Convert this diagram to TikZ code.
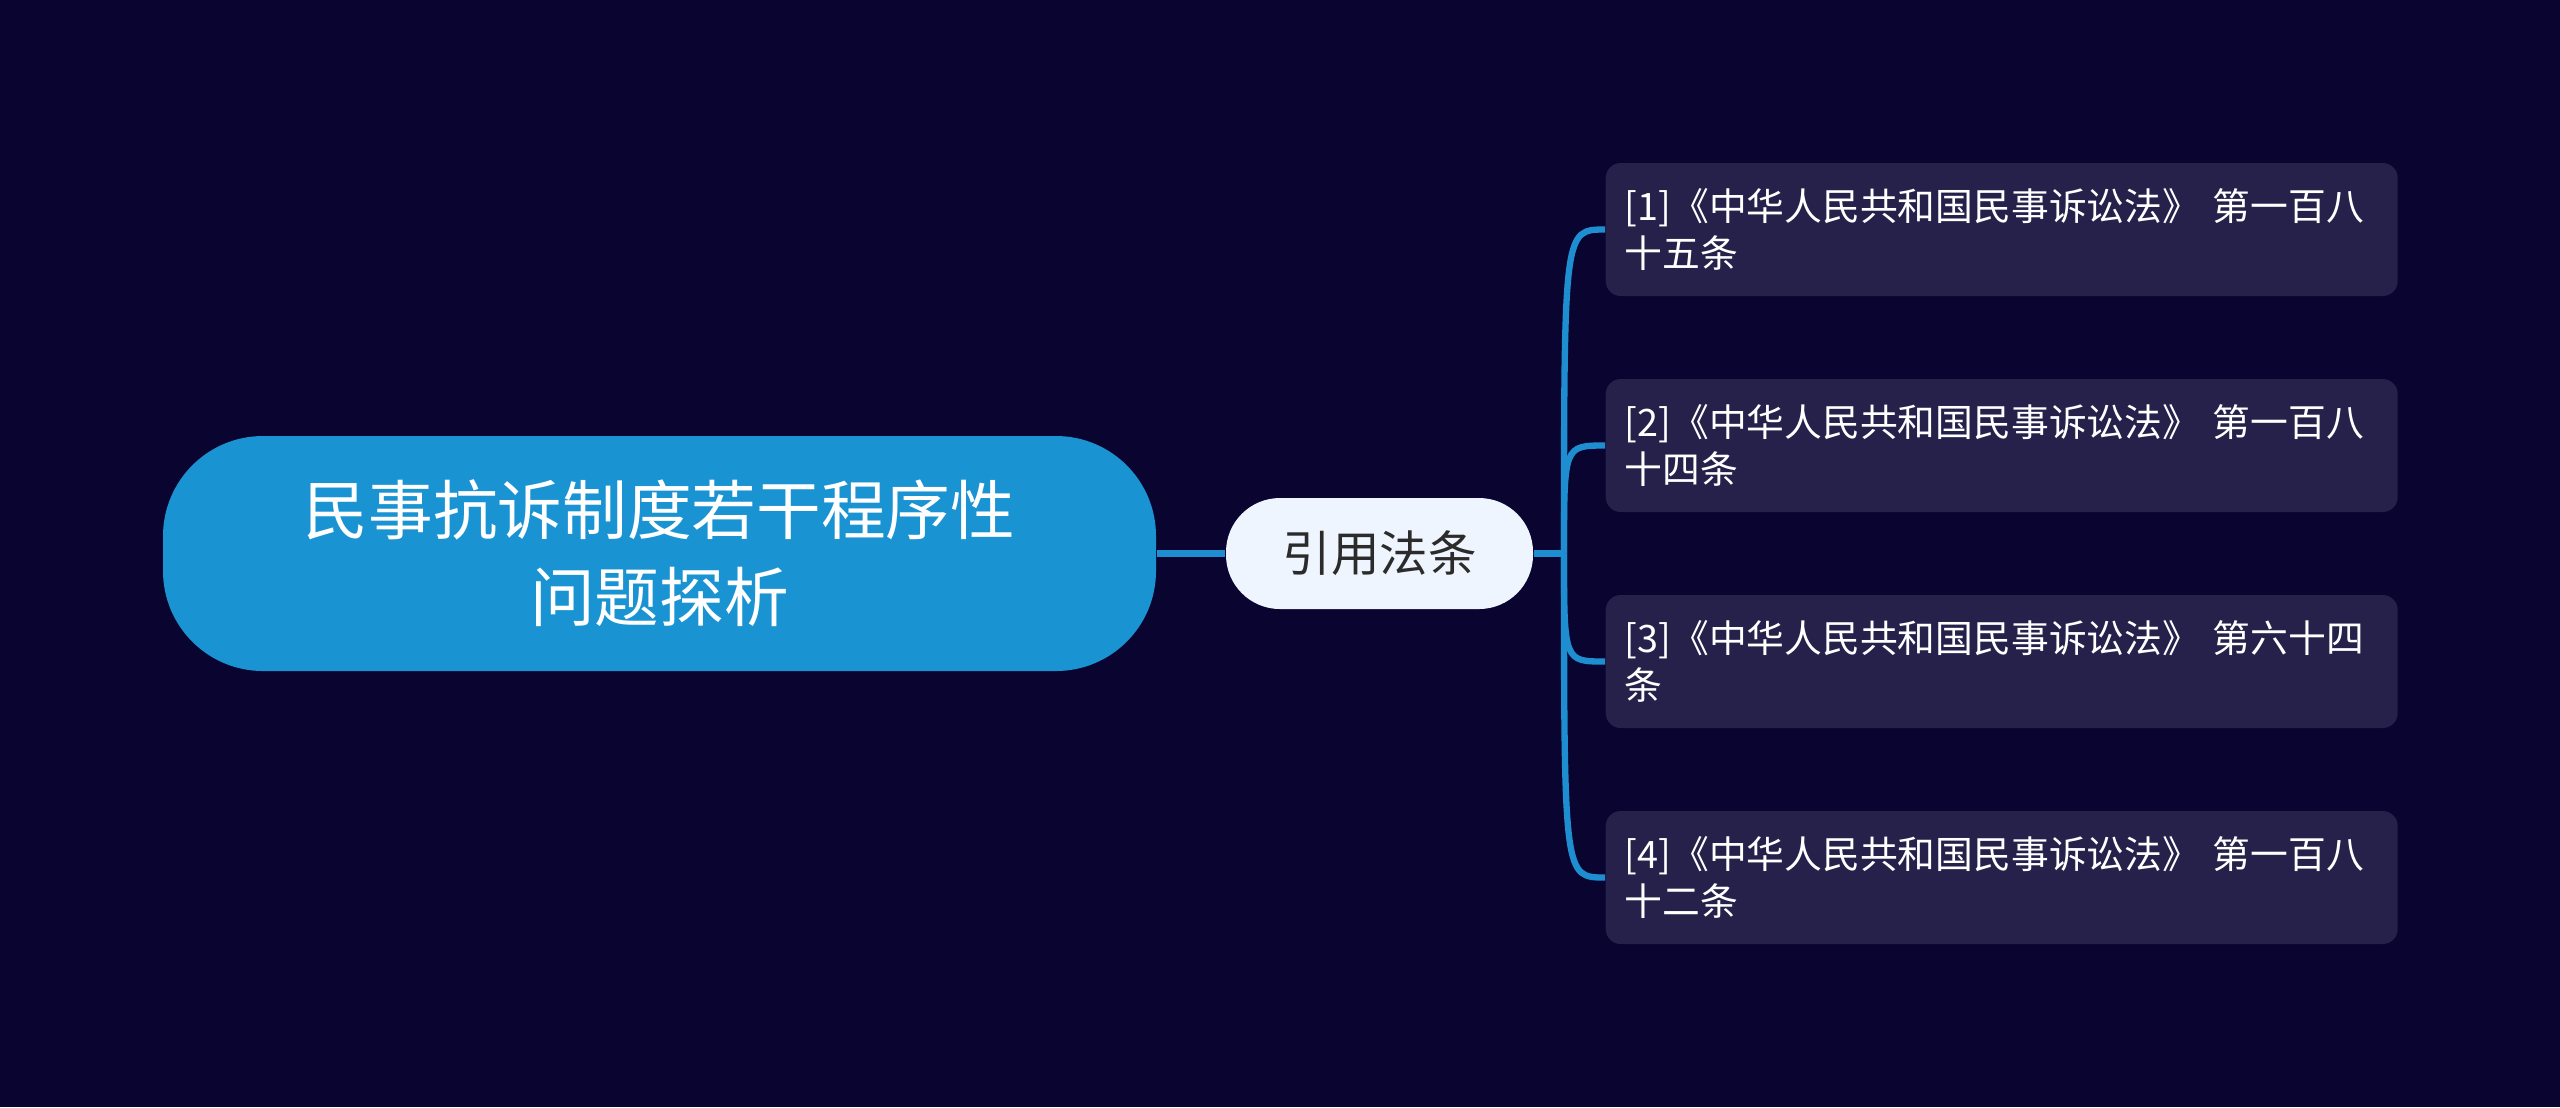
\documentclass[tikz,border=0pt]{standalone}
\usepackage{fontspec}
\setmainfont{Noto Sans CJK SC}
\usepackage{xcolor}
\definecolor{bgnavy}{HTML}{0A0530}
\definecolor{rootblue}{HTML}{1A93D3}
\definecolor{linkblue}{HTML}{1E8ED0}
\definecolor{leafnavy}{HTML}{25214A}
\definecolor{midpale}{HTML}{EFF5FE}
\definecolor{midtext}{HTML}{2B2B2B}

\begin{document}
\begin{tikzpicture}[
  root/.style={fill=rootblue, rounded corners=1cm, minimum width=9.93cm, minimum height=2.35cm,
    align=center, text=white, font=\fontsize{18.4}{24.7}\selectfont},
  topic/.style={fill=midpale, rounded corners=0.54cm, minimum width=3.07cm, minimum height=1.11cm,
    text=midtext, font=\fontsize{13.8}{16}\selectfont},
  leaf/.style={fill=leafnavy, rounded corners=0.15cm, minimum height=1.33cm, text width=7.54cm,
    inner xsep=0.19cm, inner ysep=0pt, align=left, text=white, font=\fontsize{10.75}{13.4}\selectfont},
  link/.style={draw=linkblue, line width=1.8pt}
]
  \fill[bgnavy] (0,0) rectangle (25.6,-11.07);
  \useasboundingbox (0,0) rectangle (25.6,-11.07);

  \node[root] (theme) at (6.595,-5.535) {民事抗诉制度若干程序性\\问题探析};
  \node[topic] (cite) at (13.795,-5.535) {引用法条};
  \coordinate (fork) at (15.64,-5.535);

  \node[leaf, anchor=west] (law1) at (16.05,-2.295) {[1]《中华人民共和国民事诉讼法》 第一百八\\十五条};
  \node[leaf, anchor=west] (law2) at (16.05,-4.455) {[2]《中华人民共和国民事诉讼法》 第一百八\\十四条};
  \node[leaf, anchor=west] (law3) at (16.05,-6.615) {[3]《中华人民共和国民事诉讼法》 第六十四\\条};
  \node[leaf, anchor=west] (law4) at (16.05,-8.775) {[4]《中华人民共和国民事诉讼法》 第一百八\\十二条};

  \draw[link] (theme.east) -- (cite.west);
  \draw[link] (cite.east) -- (fork);
  \draw[link] (fork) .. controls (fork |- law1.west) .. (law1.west);
  \draw[link] (fork) .. controls (fork |- law2.west) .. (law2.west);
  \draw[link] (fork) .. controls (fork |- law3.west) .. (law3.west);
  \draw[link] (fork) .. controls (fork |- law4.west) .. (law4.west);
\end{tikzpicture}
\end{document}
